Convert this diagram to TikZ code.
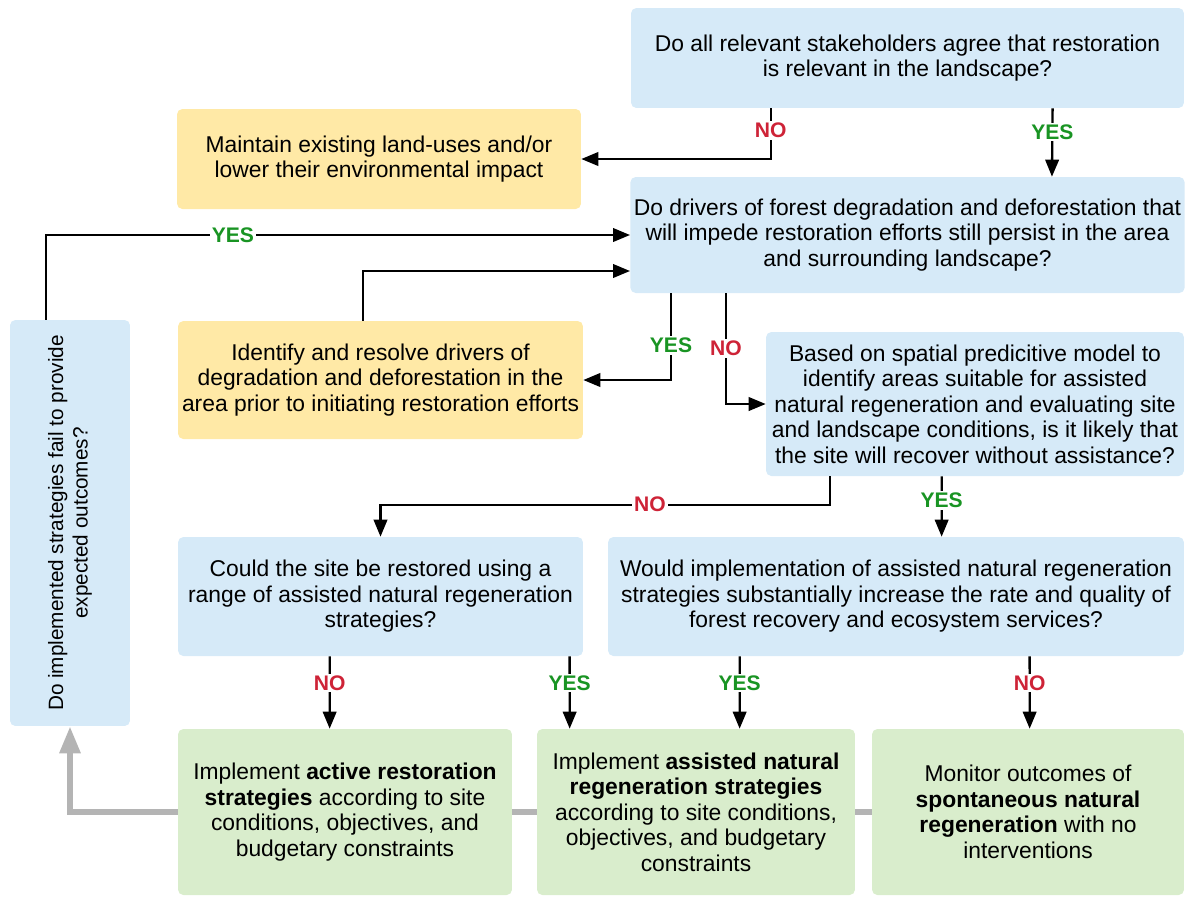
\documentclass[tikz,border=0pt]{standalone}
\usepackage{fontspec}
\setmainfont{Liberation Sans}
\usetikzlibrary{arrows.meta}
\usetikzlibrary{positioning}
\usetikzlibrary{backgrounds}

\definecolor{qblue}{RGB}{214,234,248}
\definecolor{actyellow}{RGB}{255,233,166}
\definecolor{endgreen}{RGB}{217,237,204}
\definecolor{nored}{RGB}{206,35,55}
\definecolor{yesgreen}{RGB}{25,148,35}
\definecolor{loopgray}{RGB}{180,180,180}

\begin{document}
\begin{tikzpicture}[
    x=0.02cm, y=-0.02cm,
    every node/.style={font=\fontsize{13}{14.5}\selectfont, align=center},
    box/.style={rectangle, rounded corners=3pt, inner sep=2pt},
    question/.style={box, fill=qblue},
    action/.style={box, fill=actyellow},
    outcome/.style={box, fill=endgreen},
    yeslbl/.style={fill=white, inner sep=1pt, text=yesgreen, font=\fontsize{12}{12}\selectfont\bfseries},
    nolbl/.style={yeslbl, text=nored},
    arr/.style={-{Triangle[length=0.34cm, width=0.27cm]}, line width=1.3pt},
    feedback/.style={-{Triangle[length=0.54cm, width=0.4cm]}, line width=3.4pt, draw=loopgray},
  ]

  \useasboundingbox (0,0) rectangle (1186,897);

  % Questions
  \node[question, minimum width=11.06cm, minimum height=2cm] (q1) at (907.5,58)
    {Do all relevant stakeholders agree that restoration\\is relevant in the landscape?};
  \node[question, minimum width=11.06cm, minimum height=2.32cm] (q2) at (907.5,235)
    {Do drivers of forest degradation and deforestation that\\will impede restoration efforts still persist in the area\\and surrounding landscape?};
  \node[question, minimum width=8.36cm, minimum height=2.88cm] (q3) at (975,404)
    {Based on spatial predicitive model to\\identify areas suitable for assisted\\natural regeneration and evaluating site\\and landscape conditions, is it likely that\\the site will recover without assistance?};
  \node[question, minimum width=8.1cm, minimum height=2.38cm] (q4) at (380.5,596.5)
    {Could the site be restored using a\\range of assisted natural regeneration\\strategies?};
  \node[question, minimum width=11.52cm, minimum height=2.38cm] (q5) at (896,596.5)
    {Would implementation of assisted natural regeneration\\strategies substantially increase the rate and quality of\\forest recovery and ecosystem services?};
  % rotated: east is the top, west the bottom
  \node[question, rotate=90, minimum width=8.12cm, minimum height=2.4cm,
        font=\fontsize{11.8}{14}\selectfont] (q6) at (70,523)
    {Do implemented strategies fail to provide\\expected outcomes?};

  % Actions
  \node[action, minimum width=8.08cm, minimum height=2cm] (keep) at (379,159)
    {Maintain existing land-uses and/or\\lower their environmental impact};
  \node[action, minimum width=8.1cm, minimum height=2.36cm] (resolve) at (380.5,380)
    {Identify and resolve drivers of\\degradation and deforestation in the\\area prior to initiating restoration efforts};

  % Outcomes
  \node[outcome, minimum width=6.68cm, minimum height=3.32cm] (active) at (345,812)
    {Implement \textbf{active restoration}\\\textbf{strategies} according to site\\conditions, objectives, and\\budgetary constraints};
  \node[outcome, minimum width=6.36cm, minimum height=3.32cm] (assisted) at (696,812)
    {Implement \textbf{assisted natural}\\\textbf{regeneration strategies}\\according to site conditions,\\objectives, and budgetary\\constraints};
  \node[outcome, minimum width=6.24cm, minimum height=3.32cm] (monitor) at (1028,812)
    {Monitor outcomes of\\\textbf{spontaneous natural}\\\textbf{regeneration} with no\\interventions};

  % Decisions
  \draw[arr] ([xshift=2.8cm]q1.south west) |- node[nolbl, pos=0.22] {NO} (keep.east);
  \draw[arr] ([xshift=8.44cm]q1.south west) -- node[yeslbl, pos=0.35] {YES} ([xshift=8.44cm]q2.north west);
  \draw[arr] ([xshift=-0.48cm]q6.east) |- node[yeslbl, pos=0.66] {YES} (q2.west);
  \draw[arr] ([xshift=3.7cm]resolve.north west) |- ([yshift=-0.72cm]q2.west);
  \draw[arr] ([xshift=0.82cm]q2.south west) |- node[yeslbl, pos=0.3] {YES} (resolve.east);
  \draw[arr] ([xshift=1.92cm]q2.south west) |- node[nolbl, pos=0.25] {NO} (q3.west);
  \draw[arr] ([xshift=1.28cm]q3.south west) |- node[nolbl, pos=0.7] {NO} ([yshift=0.64cm]q4.north) -- (q4.north);
  \draw[arr] ([xshift=3.52cm]q3.south west) -- node[yeslbl, pos=0.4] {YES} ([xshift=6.68cm]q5.north west);
  \draw[arr] ([xshift=3.04cm]q4.south west) -- node[nolbl, pos=0.37] {NO} ([xshift=3.04cm]active.north west);
  \draw[arr] ([xshift=7.84cm]q4.south west) -- node[yeslbl, pos=0.37] {YES} ([xshift=0.66cm]assisted.north west);
  \draw[arr] ([xshift=2.64cm]q5.south west) -- node[yeslbl, pos=0.37] {YES} ([xshift=4.06cm]assisted.north west);
  \draw[arr] ([xshift=8.44cm]q5.south west) -- node[nolbl, pos=0.37] {NO} ([xshift=3.16cm]monitor.north west);

  % Feedback loop behind the outcome boxes
  \begin{scope}[on background layer]
    \draw[feedback] (monitor.west) -| (q6.west);
  \end{scope}

\end{tikzpicture}
\end{document}
